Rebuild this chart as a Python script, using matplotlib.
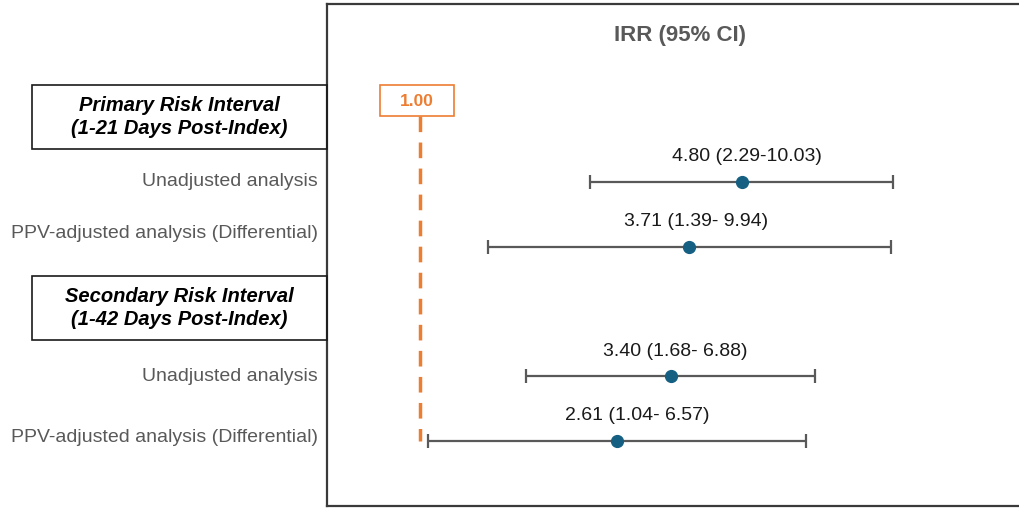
import numpy as np
import matplotlib
matplotlib.use("Agg")
import matplotlib.pyplot as plt
from matplotlib.patches import Rectangle
from matplotlib.transforms import blended_transform_factory

# ---------------- data ----------------
sections = ["Primary Risk Interval\n(1-21 Days Post-Index)",
            "Secondary Risk Interval\n(1-42 Days Post-Index)"]
row_labels = ["Unadjusted analysis",
              "PPV-adjusted analysis (Differential)",
              "Unadjusted analysis",
              "PPV-adjusted analysis (Differential)"]
irr = [4.80, 3.71, 3.40, 2.61]
ci_low = [2.29, 1.39, 1.68, 1.04]
ci_high = [10.03, 9.94, 6.88, 6.57]
ci_text = ["4.80 (2.29-10.03)", "3.71 (1.39- 9.94)",
           "3.40 (1.68- 6.88)", "2.61 (1.04- 6.57)"]
ref_value = 1.00
ref_text = "1.00"
title = "IRR (95% CI)"

# ---------------- layout ----------------
W, H = 1020, 508
section_pos = [0.0, 2.95]
row_pos = [1.0, 2.0, 4.0, 5.0]
label_shift_px = [0, -13, 0, -4]       # vertical shift of left labels (px, up = negative)
ci_text_dx_px = [5, 7, 4, 21]          # horizontal shift of value labels
px_per_row = 64.8
y_top_px, y_bot_px, y0_px = 4, 506, 117

GREY_TXT = "#595959"
ORANGE = "#ED7D31"
BAR = "#595959"
DOT = "#156082"
FONT = "Liberation Sans"

fig = plt.figure(figsize=(W / 100, H / 100), dpi=100)
ax_left = 327 / W
ax = fig.add_axes([ax_left, (H - y_bot_px) / H, 1 - ax_left, (y_bot_px - y_top_px) / H])
ax.set_xscale("log")
px_per_ln = 205.0
ax.set_xlim(np.exp(-93 / px_per_ln), np.exp((W - 327 - 93) / px_per_ln))
ax.set_ylim((y_bot_px - y0_px) / px_per_row, (y_top_px - y0_px) / px_per_row)
ax.set_xticks([]); ax.set_yticks([])
ax.xaxis.set_minor_locator(matplotlib.ticker.NullLocator())
for s in ["left", "top", "bottom"]:
    ax.spines[s].set_color("#3a3a3a")
    ax.spines[s].set_linewidth(1.6)
ax.spines["right"].set_visible(False)

def ypx(p):
    return (p - y0_px) / px_per_row

# title
ax.text(0.51, ypx(35), title, transform=blended_transform_factory(ax.transAxes, ax.transData),
        ha="center", va="center", fontsize=16, fontweight="bold", color=GREY_TXT, family=FONT)

# reference line
ax.plot([ref_value, ref_value], [ypx(116), row_pos[-1]], color=ORANGE, lw=2.5,
        linestyle=(0, (4.5, 3.0)), zorder=1, solid_capstyle="butt")
box_l = ref_value * np.exp(-40 / px_per_ln)
box_r = ref_value * np.exp(34 / px_per_ln)
ax.add_patch(Rectangle((box_l, ypx(85)), box_r - box_l, ypx(116) - ypx(85),
                       fc="white", ec=ORANGE, lw=1.2, zorder=3))
ax.text(np.sqrt(box_l * box_r), ypx(101), ref_text, ha="center", va="center", fontsize=12.5,
        fontweight="bold", color=ORANGE, family=FONT, zorder=4)

# error bars and points
err = [np.array(irr) - np.array(ci_low), np.array(ci_high) - np.array(irr)]
ax.errorbar(irr, row_pos, xerr=err, fmt="none", ecolor=BAR, elinewidth=1.6, capsize=5,
            capthick=1.6, zorder=2)
ax.plot(irr, row_pos, "o", color=DOT, markersize=8.5, zorder=4)

for x, y, t, dx in zip(irr, row_pos, ci_text, ci_text_dx_px):
    ax.annotate(t, xy=(x, y), xytext=(dx * 0.72, 25 * 0.72), textcoords="offset points",
                ha="center", va="center", fontsize=14, color="#1a1a1a", family=FONT)

# left labels
for y, t, sh in zip(row_pos, row_labels, label_shift_px):
    ax.annotate(t, xy=(0, y), xycoords=("axes fraction", "data"), xytext=(-9 * 0.72, -sh * 0.72),
                textcoords="offset points", ha="right", va="center", fontsize=14,
                color=GREY_TXT, family=FONT, annotation_clip=False)

# section header boxes
box_h = 64 / px_per_row
for y, t in zip(section_pos, sections):
    x0 = 32 / W
    rect = Rectangle((x0, y - box_h / 2), ax_left - x0, box_h,
                     transform=blended_transform_factory(fig.transFigure, ax.transData),
                     fill=False, ec="#1a1a1a", lw=1.2, clip_on=False)
    fig.add_artist(rect)
    ax.annotate(t, xy=((x0 + ax_left) / 2, y), xycoords=(fig.transFigure, "data"),
                ha="center", va="center", fontsize=14.5, fontweight="bold", fontstyle="italic",
                color="black", family=FONT, linespacing=1.3, annotation_clip=False)

fig.savefig("out.png", dpi=100)
